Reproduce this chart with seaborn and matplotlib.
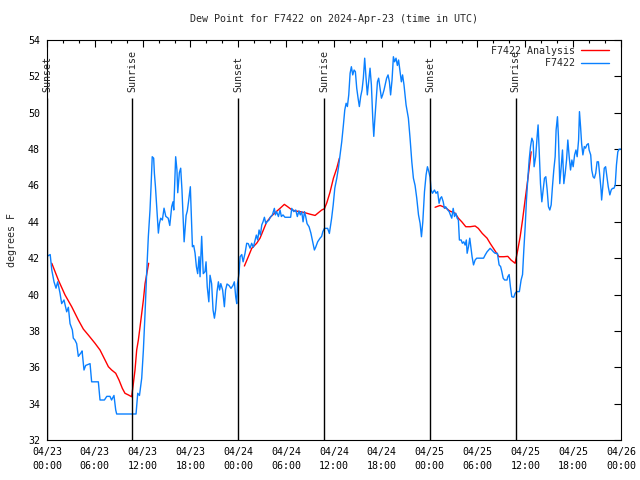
import numpy as np
import pandas as pd
import seaborn as sns
import matplotlib
matplotlib.use("Agg")
import matplotlib.pyplot as plt
import matplotlib.dates as mdates
from matplotlib.lines import Line2D


# hours since 2024-04-23 00:00 UTC
obs_hours = [0.0, 0.4, 0.6, 0.88, 1.13, 1.34, 1.63, 1.84, 2.13, 2.47, 2.68, 2.89, 3.18, 3.3, 3.5, 3.72,
             3.93, 4.27, 4.4, 4.64, 4.85, 5.4, 5.6, 6.44, 6.65, 7.2, 7.5, 7.9, 8.1, 8.4, 8.62, 8.74,
             11.17, 11.38, 11.6, 11.88, 12.09, 12.3, 12.5, 12.71, 12.92, 13.05, 13.2, 13.38, 13.47, 13.6,
             13.76, 13.97, 14.1, 14.26, 14.47, 14.68, 14.9, 15.2, 15.4, 15.64, 15.8, 15.9, 16.14, 16.3,
             16.4, 16.6, 16.77, 16.93, 17.2, 17.45, 17.6, 17.75, 17.98, 18.07, 18.24, 18.4, 18.57, 18.74,
             18.9, 19.07, 19.2, 19.4, 19.6, 19.82, 19.95, 20.1, 20.3, 20.45, 20.65, 20.83, 21.0, 21.15,
             21.33, 21.5, 21.65, 21.8, 22.03, 22.25, 22.4, 22.58, 22.83, 23.08, 23.33, 23.5, 23.67, 23.8,
             23.9, 24.09, 24.22, 24.43, 24.6, 24.84, 25.05, 25.25, 25.47, 25.67, 25.88, 26.1, 26.26, 26.43,
             26.6, 26.77, 26.94, 27.1, 27.27, 27.45, 27.6, 27.85, 28.0, 28.27, 28.52, 28.65, 28.8, 29.03,
             29.23, 29.4, 29.6, 29.85, 30.56, 30.7, 30.95, 31.2, 31.4, 31.6, 31.77, 31.95, 32.12, 32.3,
             32.45, 32.62, 32.87, 33.1, 33.33, 33.54, 33.7, 33.95, 34.25, 34.45, 34.6, 34.8, 35.2, 35.42,
             35.7, 35.9, 36.1, 36.35, 36.55, 36.76, 36.97, 37.18, 37.35, 37.52, 37.68, 37.85, 38.02, 38.18,
             38.35, 38.52, 38.68, 38.85, 39.02, 39.18, 39.35, 39.52, 39.68, 39.85, 40.02, 40.18, 40.35,
             40.52, 40.69, 40.86, 40.99, 41.1, 41.28, 41.45, 41.6, 41.78, 41.95, 42.1, 42.28, 42.45, 42.6,
             42.78, 42.95, 43.1, 43.28, 43.45, 43.6, 43.78, 43.95, 44.1, 44.28, 44.45, 44.6, 44.78, 45.04,
             45.33, 45.54, 45.76, 45.96, 46.17, 46.38, 46.6, 46.8, 46.97, 47.14, 47.35, 47.55, 47.72, 47.9,
             48.05, 48.18, 48.35, 48.6, 48.8, 49.0, 49.18, 49.35, 49.5, 49.7, 49.85, 50.0, 50.27, 50.45,
             50.6, 50.77, 50.95, 51.12, 51.28, 51.45, 51.6, 51.73, 51.95, 52.1, 52.28, 52.45, 52.6, 52.7,
             52.87, 53.03, 53.16, 53.32, 53.5, 53.7, 53.9, 54.76, 54.97, 55.2, 55.4, 55.58, 55.8, 56.0,
             56.2, 56.5, 56.71, 56.9, 57.05, 57.22, 57.4, 57.7, 57.8, 57.97, 58.13, 58.3, 58.55, 58.72,
             58.9, 59.25, 59.47, 59.65, 59.81, 59.98, 60.14, 60.3, 60.48, 60.65, 60.82, 60.98, 61.1, 61.3,
             61.48, 61.6, 61.73, 61.9, 62.07, 62.24, 62.4, 62.57, 62.74, 62.9, 63.07, 63.24, 63.4, 63.57,
             63.74, 63.86, 64.03, 64.15, 64.32, 64.5, 64.66, 64.83, 65.0, 65.17, 65.33, 65.5, 65.67, 65.84,
             66.0, 66.18, 66.35, 66.5, 66.68, 66.79, 66.93, 67.06, 67.22, 67.4, 67.55, 67.72, 67.9, 68.0,
             68.2, 68.33, 68.5, 68.66, 68.83, 69.0, 69.17, 69.33, 69.5, 69.57, 69.75, 69.9, 70.07, 70.24,
             70.4, 70.6, 70.77, 70.93, 71.1, 71.27, 71.43, 71.6, 71.77, 72.0]
obs_dewpt = [42.1, 42.2, 41.35, 40.7, 40.35, 40.7, 40.08, 39.5, 39.7, 39.05, 39.3, 38.4, 38.05, 37.6, 37.5, 37.3,
             36.6, 36.8, 36.9, 35.85, 36.1, 36.2, 35.2, 35.2, 34.2, 34.2, 34.4, 34.4, 34.2, 34.45, 33.65, 33.43,
             33.43, 34.57, 34.45, 35.4, 36.95, 38.98, 41.17, 43.18, 44.65, 45.93, 47.58, 47.5, 46.67, 45.95,
             44.83, 43.38, 43.9, 44.2, 44.1, 44.75, 44.3, 44.2, 43.8, 44.83, 45.1, 44.65, 47.58, 46.85,
             45.6, 46.7, 46.95, 45.75, 42.9, 44.35, 44.6, 45.1, 45.93, 44.8, 42.63, 42.7, 42.28, 41.53,
             41.15, 42.08, 40.98, 43.2, 41.15, 41.26, 41.8, 40.43, 39.6, 41.06, 40.6, 39.15, 38.7, 39.15,
             40.16, 40.7, 40.25, 40.6, 40.25, 39.33, 40.25, 40.58, 40.5, 40.34, 40.5, 40.7, 39.88, 39.5,
             40.6, 41.17, 42.08, 42.2, 41.8, 42.27, 42.82, 42.8, 42.55, 42.82, 42.6, 43.0, 43.27, 43.0,
             43.55, 43.27, 43.83, 44.0, 44.25, 43.9, 44.0, 44.1, 44.25, 44.38, 44.74, 44.38, 44.56, 44.29,
             44.65, 44.29, 44.38, 44.25, 44.25, 44.74, 44.56, 44.65, 44.29, 44.6, 44.38, 44.56, 44.0, 44.56,
             44.29, 43.9, 43.73, 43.38, 42.9, 42.45, 42.6, 42.9, 43.1, 43.2, 43.46, 43.64, 43.64, 43.36,
             44.19, 44.93, 45.85, 46.4, 46.95, 47.68, 48.4, 49.33, 50.15, 50.52, 50.34, 50.98, 52.17, 52.53,
             52.08, 52.35, 52.26, 51.35, 50.8, 50.34, 50.9, 51.26, 51.9, 53.0, 51.9, 50.98, 51.7,
             52.45, 51.53, 49.7, 48.7, 49.5, 50.6, 51.7, 51.9, 51.35, 50.8, 50.98, 51.26, 51.6, 51.9,
             52.08, 51.7, 50.98, 51.8, 53.08, 52.8, 53.0, 52.6, 52.9, 52.26, 51.7, 52.08, 51.53, 50.43,
             49.7, 48.6, 47.3, 46.4, 46.0, 45.3, 44.38, 43.92, 43.18, 44.0, 45.66, 46.58, 47.03, 46.75,
             46.45, 45.75, 45.57, 45.75, 45.57, 45.66, 45.02, 45.3, 45.38, 45.1, 44.74, 44.83, 44.65, 44.56,
             44.38, 44.2, 44.74, 44.29, 44.47, 44.2, 44.1, 43.0, 43.0, 42.82, 42.9, 42.72, 43.0, 42.27,
             42.63, 43.1, 42.63, 42.08, 41.63, 41.9, 42.0, 42.0, 42.18, 42.35, 42.45, 42.54, 42.45, 42.35,
             42.27, 42.27, 41.63, 41.54, 41.27, 40.9, 40.8, 40.8, 40.98, 41.1, 40.43, 39.88, 39.85, 40.07,
             40.16, 40.16, 40.8, 41.1, 42.45, 43.72, 45.2, 46.3, 47.4, 48.14, 48.6, 48.4, 47.03, 47.6,
             48.7, 49.33, 48.0, 46.1, 45.1, 45.75, 46.4, 46.48, 45.75, 44.83, 44.65, 44.93, 45.93, 46.85,
             47.58, 49.05, 49.78, 48.7, 46.1, 47.03, 47.95, 46.1, 46.67, 47.4, 48.5, 47.58, 46.85, 47.4,
             47.03, 47.68, 47.95, 47.58, 48.5, 50.06, 49.22, 48.3, 47.68, 48.14, 48.05, 48.24, 48.3, 47.95,
             47.68, 46.85, 46.48, 46.4, 46.67, 47.3, 47.3, 46.58, 45.75, 45.2, 46.1, 46.95, 47.03, 46.48,
             45.93, 45.48, 45.75, 45.84, 45.84, 46.0, 47.13, 47.85, 48.0, 48.0]

# analysis: three separate pieces
ana_hours = [0.6, 1.42, 2.26, 3.1, 3.93, 4.56, 5.19, 6.02, 6.65, 7.28, 7.7, 8.11, 8.62, 9.03, 9.45, 9.78,
             10.2, 10.62, 10.83, 11.04, 11.25, 11.46, 11.67, 11.88, 12.09, 12.3, 12.75,
             24.76, 25.25, 25.68, 26.3, 26.72, 27.14, 27.56, 28.1, 28.6, 29.23, 29.77, 30.19, 30.61, 31.1,
             31.74, 32.37, 32.99, 33.63, 34.04, 34.46, 34.8, 35.1, 35.5, 35.93, 36.35, 36.68,
             48.68, 49.3, 49.7, 50.1, 50.5, 51.2, 51.6, 52.03, 52.53, 53.07, 53.7, 54.1, 54.6, 55.2, 55.58,
             56.0, 56.4, 56.7, 57.3, 57.8, 58.2, 58.72, 59.05, 59.35, 59.65, 59.97, 60.3, 60.5, 60.73]
ana_dewpt = [41.72, 40.8, 39.98, 39.33, 38.6, 38.1, 37.77, 37.32, 36.95, 36.4, 36.03, 35.85, 35.67, 35.3, 34.84, 34.57,
             34.48, 34.38, 35.1, 35.85, 36.95, 37.5, 38.22, 38.96, 39.7, 40.6, 41.72,
             41.57, 42.08, 42.54, 42.82, 43.1, 43.55, 44.0, 44.29, 44.5, 44.74, 44.96, 44.83, 44.69, 44.6,
             44.56, 44.5, 44.42, 44.35, 44.5, 44.65, 44.72, 45.05, 45.63, 46.4, 46.95, 47.5,
             44.8, 44.9, 44.83, 44.74, 44.6, 44.47, 44.2, 44.0, 43.73, 43.73, 43.77, 43.64, 43.36, 43.1, 42.82,
             42.54, 42.27, 42.08, 42.08, 42.1, 41.9, 41.72, 42.45, 43.18, 44.1, 45.2, 46.3, 47.03, 47.85]
ana_piece = [1] * 27 + [2] * 26 + [3] * 29

sun_hours = [0.0, 10.7, 24.0, 34.8, 48.07, 58.77]
sun_labels = ["Sunset", "Sunrise", "Sunset", "Sunrise", "Sunset", "Sunrise"]

t0 = pd.Timestamp("2024-04-23 00:00")
df_obs = pd.DataFrame({"time": t0 + pd.to_timedelta(obs_hours, unit="h"), "dewpt": obs_dewpt})
df_ana = pd.DataFrame({"time": t0 + pd.to_timedelta(ana_hours, unit="h"), "dewpt": ana_dewpt,
                       "piece": ana_piece})
sun_times = t0 + pd.to_timedelta(sun_hours, unit="h")

sns.set_style("white")
plt.rcParams["font.family"] = ["DejaVu Sans Mono"]
plt.rcParams["font.size"] = 7.2

blue = "#0a80ff"
fig = plt.figure(figsize=(6.4, 4.8), dpi=100, facecolor="white")
ax = fig.add_axes([47 / 640, 40 / 480, 574 / 640, 400 / 480])

sns.lineplot(data=df_ana, x="time", y="dewpt", units="piece", estimator=None,
             color="red", lw=1.0, ax=ax, legend=False)
sns.lineplot(data=df_obs, x="time", y="dewpt", estimator=None,
             color=blue, lw=1.0, ax=ax, legend=False)

for t, lab in zip(sun_times, sun_labels):
    ax.vlines(t, 32, 50.8, color="black", lw=1.0)
    ax.text(t, 51.15, lab, rotation=90, ha="center", va="bottom", fontsize=7.2)

ax.set_xlim(t0, t0 + pd.Timedelta(hours=72))
ax.set_ylim(32, 54)
ax.set_yticks(np.arange(32, 55, 2))
ax.xaxis.set_major_locator(mdates.HourLocator(byhour=range(0, 24, 6)))
ax.xaxis.set_minor_locator(mdates.HourLocator(interval=2))
ax.xaxis.set_major_formatter(mdates.DateFormatter("%m/%d\n%H:%M"))
ax.tick_params(which="both", direction="in", top=True, right=True, colors="black", labelsize=7.2)
ax.tick_params(which="major", length=5, width=0.8)
ax.tick_params(which="minor", length=2.5, width=0.8)
ax.tick_params(axis="x", pad=5)
ax.tick_params(axis="y", pad=5)
for lbl in ax.get_xticklabels():
    lbl.set_linespacing(1.45)

for sp in ax.spines.values():
    sp.set_color("black")
    sp.set_linewidth(0.8)

ax.set_xlabel("")
ax.set_ylabel("degrees F", fontsize=7.2, labelpad=8)
ax.set_title("Dew Point for F7422 on 2024-Apr-23 (time in UTC)", fontsize=7.2, pad=13)

handles = [Line2D([], [], color="red", lw=1.0), Line2D([], [], color=blue, lw=1.0)]
ax.legend(handles, ["F7422 Analysis", "         F7422"], loc="upper right", frameon=False,
          markerfirst=False, handlelength=2.8, handletextpad=0.6, labelspacing=0.25,
          borderpad=0.2, borderaxespad=0, bbox_to_anchor=(1 - 10 / 574, 1 - 4 / 400), fontsize=7.2)

fig.savefig("out.png", dpi=100, facecolor="white")
